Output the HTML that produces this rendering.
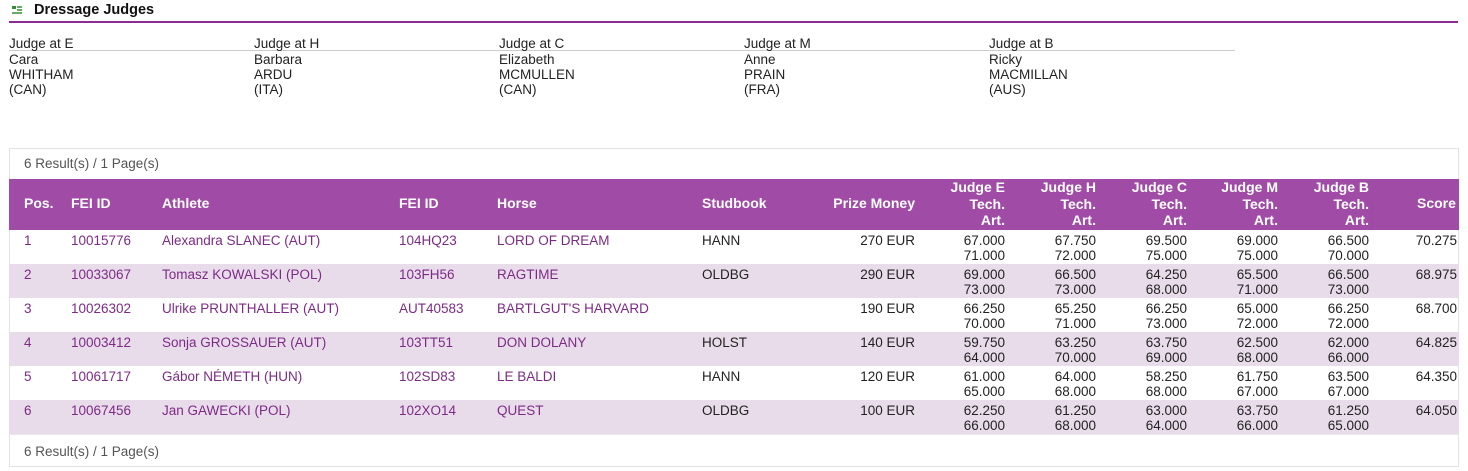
<!DOCTYPE html>
<html><head><meta charset="utf-8"><style>
*{margin:0;padding:0;box-sizing:border-box}
body{width:1468px;height:471px;background:#fff;font-family:"Liberation Sans",sans-serif;font-size:13.5px;color:#222;position:relative;overflow:hidden}
.a{position:absolute;white-space:nowrap;line-height:15px}
.r{text-align:right}
.h{color:#fff;font-weight:bold;font-size:14px}
.p{color:#7d2a86}
</style></head><body>
<div class="a" style="left:12px;top:6px;width:10px;height:8px;">
<div style="position:absolute;left:0;top:0;width:4px;height:3px;background:#3a8a3a"></div>
<div style="position:absolute;left:5px;top:0;width:5px;height:2px;background:#6a6"></div>
<div style="position:absolute;left:5px;top:3px;width:5px;height:2px;background:#6a6"></div>
<div style="position:absolute;left:0;top:6px;width:10px;height:2px;background:#6a6"></div>
</div>
<div class="a" style="left:34px;top:3px;font-weight:bold;font-size:14.5px;color:#111">Dressage Judges</div>
<div style="position:absolute;left:9px;top:21px;width:1449px;height:2px;background:#8f2a94"></div>
<div style="position:absolute;left:9px;top:50px;width:1226px;height:1px;background:#ccc"></div>
<div class="a" style="left:9px;top:36px;line-height:15px">Judge at E<br><span style="display:block;margin-top:1px">Cara<br>WHITHAM<br>(CAN)</span></div>
<div class="a" style="left:254px;top:36px">Judge at H<br><span style="display:block;margin-top:1px">Barbara<br>ARDU<br>(ITA)</span></div>
<div class="a" style="left:499px;top:36px">Judge at C<br><span style="display:block;margin-top:1px">Elizabeth<br>MCMULLEN<br>(CAN)</span></div>
<div class="a" style="left:744px;top:36px">Judge at M<br><span style="display:block;margin-top:1px">Anne<br>PRAIN<br>(FRA)</span></div>
<div class="a" style="left:989px;top:36px">Judge at B<br><span style="display:block;margin-top:1px">Ricky<br>MACMILLAN<br>(AUS)</span></div>

<div style="position:absolute;left:9px;top:148px;width:1450px;height:319px;border:1px solid #e2e2e2"></div>
<div class="a" style="left:24px;top:156px;color:#555">6 Result(s) / 1 Page(s)</div>
<div style="position:absolute;left:9px;top:179px;width:1450px;height:51px;background:#a04ca7"></div>
<div class="a h" style="left:24px;top:196px">Pos.</div>
<div class="a h" style="left:71px;top:196px">FEI ID</div>
<div class="a h" style="left:162px;top:196px">Athlete</div>
<div class="a h" style="left:399px;top:196px">FEI ID</div>
<div class="a h" style="left:497px;top:196px">Horse</div>
<div class="a h" style="left:702px;top:196px">Studbook</div>
<div class="a h r" style="left:800px;width:115px;top:196px">Prize Money</div>
<div class="a h r" style="left:904px;width:101px;top:179px;line-height:16.5px">Judge E<br>Tech.<br>Art.</div>
<div class="a h r" style="left:995px;width:101px;top:179px;line-height:16.5px">Judge H<br>Tech.<br>Art.</div>
<div class="a h r" style="left:1086px;width:101px;top:179px;line-height:16.5px">Judge C<br>Tech.<br>Art.</div>
<div class="a h r" style="left:1177px;width:101px;top:179px;line-height:16.5px">Judge M<br>Tech.<br>Art.</div>
<div class="a h r" style="left:1268px;width:101px;top:179px;line-height:16.5px">Judge B<br>Tech.<br>Art.</div>
<div class="a h" style="left:1417px;top:196px">Score</div>

<div style="position:absolute;left:9px;top:264px;width:1450px;height:34px;background:#e8dcea"></div>
<div style="position:absolute;left:9px;top:332px;width:1450px;height:34px;background:#e8dcea"></div>
<div style="position:absolute;left:9px;top:400px;width:1450px;height:34px;background:#e8dcea"></div>
<div style="position:absolute;left:9px;top:434px;width:1450px;height:1px;background:#e8e8e8"></div>
<div class="a" style="left:24px;top:444px;color:#555">6 Result(s) / 1 Page(s)</div>

<div id="rows"></div>
<script>
var d=[
["1","10015776","Alexandra SLANEC (AUT)","104HQ23","LORD OF DREAM","HANN","270 EUR",["67.000","71.000"],["67.750","72.000"],["69.500","75.000"],["69.000","75.000"],["66.500","70.000"],"70.275"],
["2","10033067","Tomasz KOWALSKI (POL)","103FH56","RAGTIME","OLDBG","290 EUR",["69.000","73.000"],["66.500","73.000"],["64.250","68.000"],["65.500","71.000"],["66.500","73.000"],"68.975"],
["3","10026302","Ulrike PRUNTHALLER (AUT)","AUT40583","BARTLGUT'S HARVARD","","190 EUR",["66.250","70.000"],["65.250","71.000"],["66.250","73.000"],["65.000","72.000"],["66.250","72.000"],"68.700"],
["4","10003412","Sonja GROSSAUER (AUT)","103TT51","DON DOLANY","HOLST","140 EUR",["59.750","64.000"],["63.250","70.000"],["63.750","69.000"],["62.500","68.000"],["62.000","66.000"],"64.825"],
["5","10061717","Gábor NÉMETH (HUN)","102SD83","LE BALDI","HANN","120 EUR",["61.000","65.000"],["64.000","68.000"],["58.250","68.000"],["61.750","67.000"],["63.500","67.000"],"64.350"],
["6","10067456","Jan GAWECKI (POL)","102XO14","QUEST","OLDBG","100 EUR",["62.250","66.000"],["61.250","68.000"],["63.000","64.000"],["63.750","66.000"],["61.250","65.000"],"64.050"]];
var h="";
d.forEach(function(r,i){var t=233+i*34;
h+='<div class="a p" style="left:24px;top:'+t+'px">'+r[0]+'</div>';
h+='<div class="a p" style="left:71px;top:'+t+'px">'+r[1]+'</div>';
h+='<div class="a p" style="left:162px;top:'+t+'px">'+r[2]+'</div>';
h+='<div class="a p" style="left:399px;top:'+t+'px">'+r[3]+'</div>';
h+='<div class="a p" style="left:497px;top:'+t+'px">'+r[4]+'</div>';
h+='<div class="a" style="left:702px;top:'+t+'px">'+r[5]+'</div>';
h+='<div class="a r" style="left:800px;width:115px;top:'+t+'px">'+r[6]+'</div>';
for(var j=0;j<5;j++){h+='<div class="a r" style="left:'+(904+j*91)+'px;width:101px;top:'+t+'px">'+r[7+j][0]+'<br>'+r[7+j][1]+'</div>';}
h+='<div class="a r" style="left:1360px;width:97px;top:'+t+'px">'+r[12]+'</div>';});
document.getElementById("rows").innerHTML=h;
</script>
</body></html>
